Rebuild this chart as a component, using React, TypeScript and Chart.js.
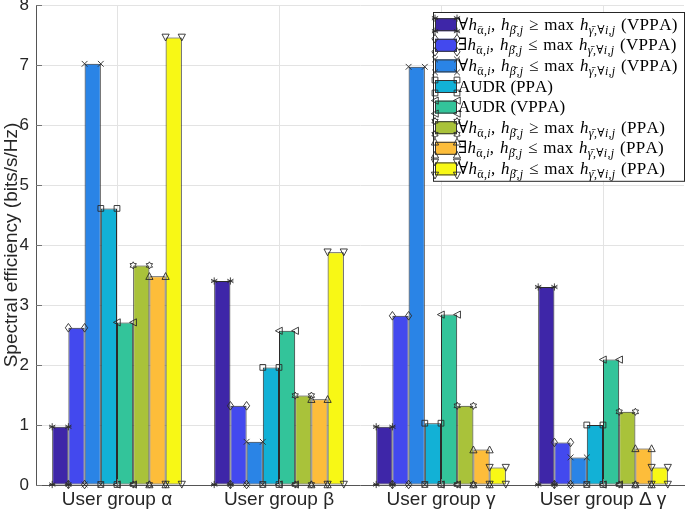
import React, { useEffect, useRef } from "react";
import { Chart, registerables } from "chart.js";

Chart.register(...registerables);

const categories = ["User group α", "User group β", "User group γ", "User group Δ γ"];

const seriesLabels = [
  "∀h_{ᾱ,i}, h_{β̄,j} ≥ max h_{γ̄,∀i,j} (VPPA)",
  "∃h_{ᾱ,i}, h_{β̄,j} ≤ max h_{γ̄,∀i,j} (VPPA)",
  "∀h_{ᾱ,i}, h_{β̄,j} ≤ max h_{γ̄,∀i,j} (VPPA)",
  "AUDR (PPA)",
  "AUDR (VPPA)",
  "∀h_{ᾱ,i}, h_{β̄,j} ≥ max h_{γ̄,∀i,j} (PPA)",
  "∃h_{ᾱ,i}, h_{β̄,j} ≤ max h_{γ̄,∀i,j} (PPA)",
  "∀h_{ᾱ,i}, h_{β̄,j} ≤ max h_{γ̄,∀i,j} (PPA)",
];

const vppaForallGe = [0.97, 3.4, 0.97, 3.3];
const vppaExistsLe = [2.62, 1.32, 2.82, 0.71];
const vppaForallLe = [7.02, 0.72, 6.97, 0.46];
const audrPpa = [4.61, 1.96, 1.03, 1.0];
const audrVppa = [2.71, 2.57, 2.84, 2.09];
const ppaForallGe = [3.66, 1.49, 1.32, 1.22];
const ppaExistsLe = [3.48, 1.43, 0.59, 0.61];
const ppaForallLe = [7.46, 3.88, 0.29, 0.29];

const seriesValues = [
  vppaForallGe,
  vppaExistsLe,
  vppaForallLe,
  audrPpa,
  audrVppa,
  ppaForallGe,
  ppaExistsLe,
  ppaForallLe,
];

const seriesColors = [
  "#3e26a8",
  "#4349ee",
  "#2a84e6",
  "#12b1d6",
  "#33c49a",
  "#a9c23a",
  "#fdbd3a",
  "#f8f815",
];

const markerShapes = ["asterisk", "diamond", "cross", "square", "triLeft", "hexagram", "triUp", "triDown"];

const yTicks = [0, 1, 2, 3, 4, 5, 6, 7, 8];

function drawMarker(ctx: CanvasRenderingContext2D, shape: string, x: number, y: number, r: number) {
  ctx.save();
  ctx.strokeStyle = "#2b2b2b";
  ctx.lineWidth = 0.9;
  ctx.beginPath();
  switch (shape) {
    case "asterisk": {
      for (let k = 0; k < 3; k++) {
        const a = (Math.PI / 3) * k + Math.PI / 2;
        ctx.moveTo(x + r * Math.cos(a), y + r * Math.sin(a));
        ctx.lineTo(x - r * Math.cos(a), y - r * Math.sin(a));
      }
      ctx.moveTo(x - r * 0.85, y);
      ctx.lineTo(x + r * 0.85, y);
      ctx.stroke();
      break;
    }
    case "diamond":
      ctx.moveTo(x, y - r * 1.2);
      ctx.lineTo(x + r * 0.85, y);
      ctx.lineTo(x, y + r * 1.2);
      ctx.lineTo(x - r * 0.85, y);
      ctx.closePath();
      ctx.stroke();
      break;
    case "cross":
      ctx.moveTo(x - r * 0.8, y - r * 0.8);
      ctx.lineTo(x + r * 0.8, y + r * 0.8);
      ctx.moveTo(x + r * 0.8, y - r * 0.8);
      ctx.lineTo(x - r * 0.8, y + r * 0.8);
      ctx.stroke();
      break;
    case "square":
      ctx.rect(x - r * 0.8, y - r * 0.8, r * 1.6, r * 1.6);
      ctx.stroke();
      break;
    case "triLeft":
      ctx.moveTo(x - r, y);
      ctx.lineTo(x + r * 0.9, y - r);
      ctx.lineTo(x + r * 0.9, y + r);
      ctx.closePath();
      ctx.stroke();
      break;
    case "hexagram": {
      for (let k = 0; k < 12; k++) {
        const a = (Math.PI / 6) * k - Math.PI / 2;
        const rr = k % 2 === 0 ? r : r * 0.58;
        const px = x + rr * Math.cos(a);
        const py = y + rr * Math.sin(a);
        if (k === 0) ctx.moveTo(px, py);
        else ctx.lineTo(px, py);
      }
      ctx.closePath();
      ctx.stroke();
      break;
    }
    case "triUp":
      ctx.moveTo(x, y - r);
      ctx.lineTo(x + r, y + r * 0.9);
      ctx.lineTo(x - r, y + r * 0.9);
      ctx.closePath();
      ctx.stroke();
      break;
    case "triDown":
      ctx.moveTo(x, y + r);
      ctx.lineTo(x + r, y - r * 0.9);
      ctx.lineTo(x - r, y - r * 0.9);
      ctx.closePath();
      ctx.stroke();
      break;
  }
  ctx.restore();
}

type Seg = { t: string; italic: boolean; sub: boolean };

function parseLabel(s: string): Seg[] {
  const segs: Seg[] = [];
  let i = 0;
  while (i < s.length) {
    if (s[i] === "_" && s[i + 1] === "{") {
      const end = s.indexOf("}", i);
      const inner = s.slice(i + 2, end);
      for (const ch of Array.from(inner)) {
        const it = /[a-zA-Zα-ω]/.test(ch);
        segs.push({ t: ch, italic: it, sub: true });
      }
      i = end + 1;
      continue;
    }
    const ch = s[i];
    const it = ch === "h" && s[i + 1] === "_";
    segs.push({ t: ch, italic: it, sub: false });
    i++;
  }
  return segs;
}

const FONT_MAIN = 17;
const FONT_SUB = 12;
const SERIF = "'Liberation Serif', 'DejaVu Serif', serif";

function drawRich(ctx: CanvasRenderingContext2D, s: string, x: number, y: number) {
  const segs = parseLabel(s);
  const isMath = s.indexOf("_") >= 0;
  let cx = x;
  ctx.save();
  ctx.fillStyle = "#000";
  ctx.textBaseline = "alphabetic";
  ctx.textAlign = "left";
  for (const sg of segs) {
    const size = sg.sub ? FONT_SUB : FONT_MAIN;
    ctx.font = `${sg.italic ? "italic " : ""}${size}px ${SERIF}`;
    const dy = sg.sub ? 4 : 0;
    if (sg.t === " " && isMath) {
      cx += 5.6;
      continue;
    }
    ctx.fillText(sg.t, cx, y + dy);
    cx += ctx.measureText(sg.t).width + (isMath ? 0.3 : 0);
  }
  ctx.restore();
}

const markerPlugin = {
  id: "cornerMarkers",
  afterDatasetsDraw(chart: any) {
    const ctx = chart.ctx as CanvasRenderingContext2D;
    chart.data.datasets.forEach((ds: any, di: number) => {
      const meta = chart.getDatasetMeta(di);
      meta.data.forEach((el: any) => {
        const p = el.getProps(["x", "y", "base", "width"], true);
        const l = p.x - p.width / 2;
        const r = p.x + p.width / 2;
        const shape = markerShapes[di];
        drawMarker(ctx, shape, l, p.y, 3.6);
        drawMarker(ctx, shape, r, p.y, 3.6);
        drawMarker(ctx, shape, l, p.base, 3.6);
        drawMarker(ctx, shape, r, p.base, 3.6);
      });
    });
  },
};

const innerTicksPlugin = {
  id: "innerTicks",
  afterDraw(chart: any) {
    const ctx = chart.ctx as CanvasRenderingContext2D;
    const { left, bottom } = chart.chartArea;
    const ys = chart.scales.y;
    const xs = chart.scales.x;
    ctx.save();
    ctx.strokeStyle = "#777";
    ctx.lineWidth = 1;
    ctx.beginPath();
    ys.ticks.forEach((t: any) => {
      const py = Math.round(ys.getPixelForValue(t.value)) + 0.5;
      ctx.moveTo(left, py);
      ctx.lineTo(left + 6, py);
    });
    xs.ticks.forEach((_t: any, i: number) => {
      const px = Math.round(xs.getPixelForTick(i)) + 0.5;
      ctx.moveTo(px, bottom);
      ctx.lineTo(px, bottom - 6);
    });
    ctx.stroke();
    ctx.restore();
  },
};

const legendPlugin = {
  id: "richLegend",
  afterDraw(chart: any) {
    const ctx = chart.ctx as CanvasRenderingContext2D;
    const left = 433;
    const top = 12;
    const right = chart.width - 1;
    const rowH = 20.6;
    const bottom = top + 8 * rowH + 4;
    ctx.save();
    ctx.fillStyle = "#ffffff";
    ctx.fillRect(left, top, right - left, bottom - top);
    ctx.strokeStyle = "#262626";
    ctx.lineWidth = 1;
    ctx.strokeRect(left + 0.5, top + 0.5, right - left, bottom - top);
    chart.data.datasets.forEach((ds: any, i: number) => {
      const cy = top + 12.7 + i * rowH;
      const px0 = 435;
      const px1 = 457;
      const ph = 13;
      ctx.fillStyle = ds.backgroundColor;
      ctx.fillRect(px0, cy - ph / 2, px1 - px0, ph);
      ctx.strokeStyle = "#333";
      ctx.lineWidth = 1;
      ctx.strokeRect(px0 + 0.5, cy - ph / 2 + 0.5, px1 - px0 - 1, ph - 1);
      const shape = markerShapes[i];
      drawMarker(ctx, shape, px0, cy - ph / 2, 3.6);
      drawMarker(ctx, shape, px1, cy - ph / 2, 3.6);
      drawMarker(ctx, shape, px0, cy + ph / 2, 3.6);
      drawMarker(ctx, shape, px1, cy + ph / 2, 3.6);
      drawRich(ctx, ds.label, 458, cy + 5);
    });
    ctx.restore();
  },
};

export default function App() {
  const ref = useRef<HTMLCanvasElement | null>(null);
  useEffect(() => {
    if (!ref.current) return;
    const chart = new Chart(ref.current, {
      type: "bar",
      data: {
        labels: categories,
        datasets: seriesValues.map((vals, i) => ({
          label: seriesLabels[i],
          data: vals,
          backgroundColor: seriesColors[i],
          borderColor: "#2b2b2b",
          borderWidth: 1,
          borderSkipped: false,
          categoryPercentage: 0.8,
          barPercentage: 1.0,
        })),
      },
      options: {
        animation: false,
        responsive: true,
        maintainAspectRatio: false,
        layout: { padding: { top: 5, right: 1, left: 0, bottom: 0 } },
        plugins: {
          legend: { display: false },
          tooltip: { enabled: false },
        },
        scales: {
          x: {
            offset: true,
            grid: { offset: false, color: "#e3e3e3", drawTicks: false },
            border: { color: "#555", width: 1 },
            ticks: {
              color: "#262626",
              font: { family: "'Liberation Sans', Arial, sans-serif", size: 19 },
              padding: 3,
              maxRotation: 0,
              autoSkip: false,
            },
            afterFit(scale: any) {
              scale.height = 27;
              scale.paddingLeft = 0;
              scale.paddingRight = 0;
            },
          },
          y: {
            min: 0,
            max: 8,
            afterBuildTicks(scale: any) {
              scale.ticks = yTicks.map((v) => ({ value: v }));
            },
            grid: { color: "#e3e3e3", drawTicks: false },
            border: { color: "#555", width: 1 },
            ticks: {
              color: "#262626",
              font: { family: "'Liberation Sans', Arial, sans-serif", size: 17 },
              padding: 7,
            },
            title: {
              display: true,
              text: "Spectral efficiency (bits/s/Hz)",
              color: "#262626",
              font: { family: "'Liberation Sans', Arial, sans-serif", size: 19 },
              padding: 0,
            },
            afterFit(scale: any) {
              scale.width = 36;
              scale.paddingTop = 0;
              scale.paddingBottom = 0;
            },
          },
        },
      },
      plugins: [markerPlugin, innerTicksPlugin, legendPlugin],
    });
    return () => chart.destroy();
  }, []);
  return (
    <div style={{ position: "fixed", left: 0, top: 0, width: 685, height: 512, background: "#fff" }}>
      <canvas ref={ref} />
    </div>
  );
}
